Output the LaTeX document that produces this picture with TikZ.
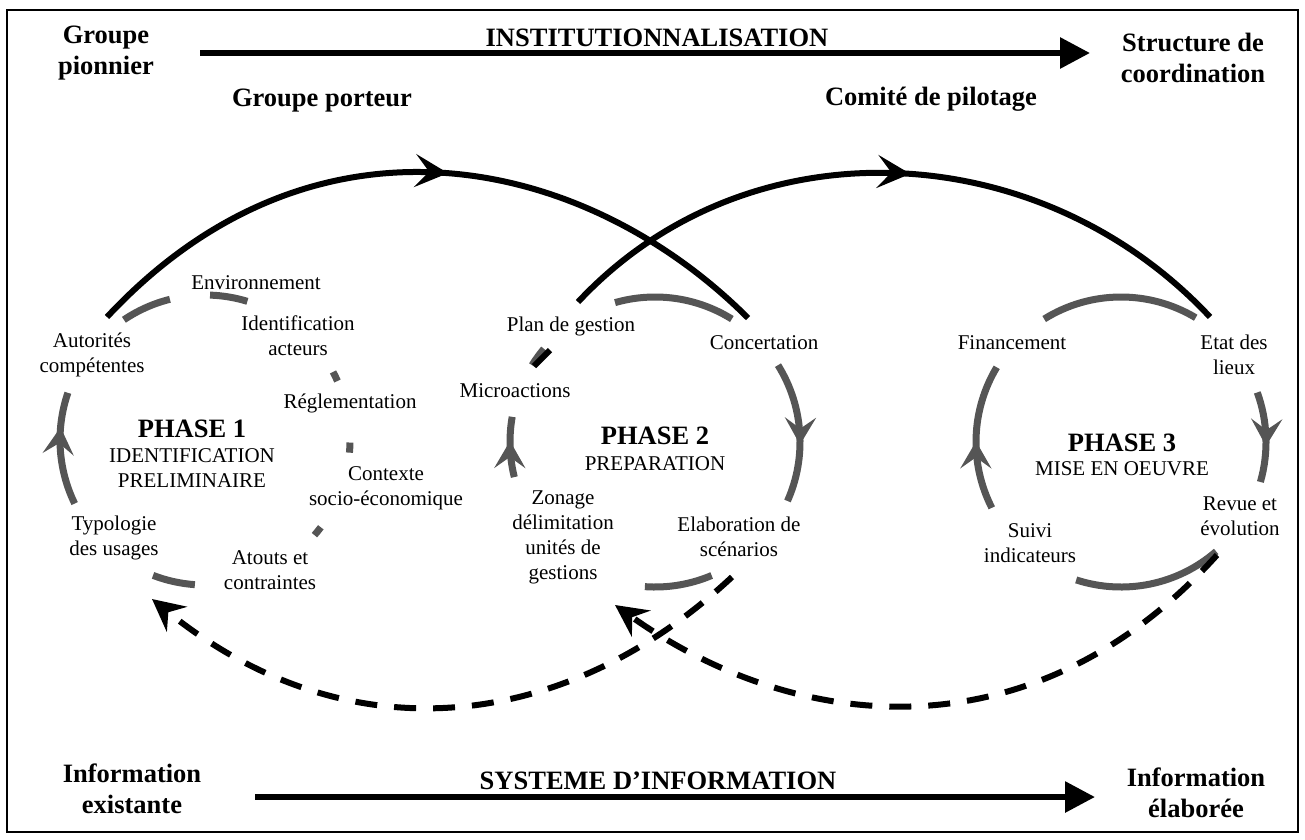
\documentclass[tikz,border=0pt]{standalone}
\usepackage{fontspec}
\setmainfont{Liberation Serif}
\usetikzlibrary{arrows.meta,decorations.markings,calc}
\definecolor{cyc}{RGB}{85,85,85}
\tikzset{
  lbl/.style={font=\fontsize{21}{25}\selectfont, align=center, inner sep=0pt},
  hdr/.style={font=\fontsize{26.5}{31}\selectfont\bfseries, align=center, inner sep=0pt},
  ring/.style={draw, color=cyc, line width=7pt},
  ringarrow/.style={ring, postaction={decorate}, decoration={markings,
      mark=at position #1 with {\arrow{Stealth[length=27pt,width=31pt,inset=11pt]}}}},
  bigarc/.style={draw, line width=6pt, postaction={decorate}, decoration={markings,
      mark=at position #1 with {\arrow{Stealth[length=33pt,width=33pt,inset=14pt]}}}},
  fb/.style={line width=6pt, dash pattern=on 22pt off 17pt,
      -{Stealth[length=32pt,width=32pt,inset=11pt]}},
  flow/.style={line width=6pt, -{Triangle[length=30pt,width=30pt]}},
}
\begin{document}
\begin{tikzpicture}[x=1pt,y=-1pt]
\useasboundingbox (0,0) rectangle (1305,839);
\draw[line width=2pt] (7,10) rectangle (1298,832);

% circle centres
\coordinate (c1) at (205,440);
\coordinate (c2) at (655,442);
\coordinate (c3) at (1121,442);

% phase 1 ring pieces
\draw[ring] ($(c1)+(-124:145)$) arc[start angle=-124,end angle=-104,radius=145];
\draw[ring] ($(c1)+(-88:145)$) arc[start angle=-88,end angle=-73,radius=145];
\draw[ring] ($(c1)+(-28:145)$) arc[start angle=-28,end angle=-24,radius=145];
\draw[ring] ($(c1)+(1:145)$) arc[start angle=1,end angle=5,radius=145];
\draw[ring] ($(c1)+(37:145)$) arc[start angle=37,end angle=41,radius=145];
\draw[ring] ($(c1)+(94:145)$) arc[start angle=94,end angle=111,radius=145];
\draw[ringarrow=0.69] ($(c1)+(154:145)$) arc[start angle=154,end angle=199,radius=145];

% phase 2 ring pieces
\draw[ring] ($(c2)+(-106:145)$) arc[start angle=-106,end angle=-58,radius=145];
\draw[ringarrow=0.59] ($(c2)+(-32:145)$) arc[start angle=-32,end angle=24,radius=145];
\draw[ring] ($(c2)+(67:145)$) arc[start angle=67,end angle=94,radius=145];
\draw[ringarrow=0.6] ($(c2)+(166:145)$) arc[start angle=166,end angle=190,radius=145];
\draw[ring] ($(c2)+(-148:145)$) arc[start angle=-148,end angle=-140,radius=145];

% phase 3 ring pieces
\draw[ring] ($(c3)+(-122:145)$) arc[start angle=-122,end angle=-59,radius=145];
\draw[ringarrow=0.6] ($(c3)+(-20:145)$) arc[start angle=-20,end angle=16,radius=145];
\draw[ring] ($(c3)+(49:145)$) arc[start angle=49,end angle=108,radius=145];
\draw[ringarrow=0.47] ($(c3)+(153:145)$) arc[start angle=153,end angle=211,radius=145];

% big black arcs
\coordinate (a1s) at (107,317);
\coordinate (a1e) at (748,318);
\draw[bigarc=0.53] (a1s) .. controls (315.5,93.5) and (586,156) .. (a1e);
\coordinate (a2s) at (578,302);
\coordinate (a2e) at (1210,317);
\draw[bigarc=0.52] (a2s) .. controls (748,120) and (1040,135) .. (a2e);
\coordinate (a2f) at (534,366);
\coordinate (a2g) at (550,350);
\draw[line width=6pt] (a2f) -- (a2g);

% dashed feedback arrows
\coordinate (d1s) at (732,577);
\coordinate (d1e) at (152,599);
\draw[fb] (d1s) .. controls (561.5,735.8) and (343.9,754.8) .. (d1e);
\coordinate (d2s) at (1217,555);
\coordinate (d2e) at (615,605);
\draw[fb] (d2s) .. controls (1033,759) and (796,734) .. (d2e);

% big straight arrows
\coordinate (t0) at (200,53);
\coordinate (t1) at (1090,53);
\draw[flow] (t0) -- (t1);
\coordinate (b0) at (255,797);
\coordinate (b1) at (1095,797);
\draw[flow] (b0) -- (b1);

% headers
\node[hdr] (gpi) at (106,53) {Groupe\\pionnier};
\node[hdr] (inst) at (657,38) {INSTITUTIONNALISATION};
\node[hdr] (struc) at (1193,58) {Structure de\\coordination};
\node[hdr] (gpo) at (322,101) {Groupe porteur};
\node[hdr] (comi) at (931,99) {Comité de pilotage};
\node[hdr] (inf1) at (132,789) {Information\\existante};
\node[hdr] (sys) at (658,781) {SYSTEME D’INFORMATION};
\node[hdr] (inf2) at (1196,793) {Information\\élaborée};

% phase 1 labels
\node[lbl] (env) at (256,283) {Environnement};
\node[lbl] (aut) at (92,355) {Autorités\\compétentes};
\node[lbl] (ida) at (298,336) {Identification\\acteurs};
\node[lbl] (reg) at (350,403) {Réglementation};
\node[lbl] (ctx) at (386,488) {Contexte\\socio-économique};
\node[lbl] (typ) at (114,538) {Typologie\\des usages};
\node[lbl] (ato) at (270,570) {Atouts et\\contraintes};
\node[hdr] (p1) at (192,429) {PHASE 1};
\node[lbl] (p1t) at (192,468) {IDENTIFICATION\\PRELIMINAIRE};

% phase 2 labels
\node[lbl] (plan) at (571,326) {Plan de gestion};
\node[lbl] (conc) at (764,343) {Concertation};
\node[lbl] (micro) at (515,391) {Microactions};
\node[lbl] (zon) at (563,537) {Zonage\\délimitation\\unités de\\gestions};
\node[lbl] (ela) at (739,537) {Elaboration de\\scénarios};
\node[hdr] (p2) at (655,436) {PHASE 2};
\node[lbl] (p2t) at (655,464) {PREPARATION};

% phase 3 labels
\node[lbl] (fin) at (1012,343) {Financement};
\node[lbl] (etat) at (1234,355) {Etat des\\lieux};
\node[hdr] (p3) at (1122,443) {PHASE 3};
\node[lbl] (p3t) at (1122,469) {MISE EN OEUVRE};
\node[lbl] (rev) at (1240,516) {Revue et\\évolution};
\node[lbl] (sui) at (1030,543) {Suivi\\indicateurs};
\end{tikzpicture}
\end{document}
